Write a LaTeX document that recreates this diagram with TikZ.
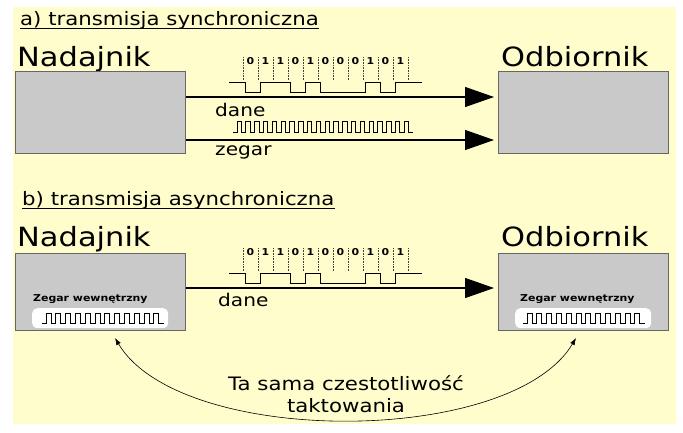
\documentclass[tikz,border=0pt]{standalone}
\usepackage{fontspec}
\setmainfont{DejaVu Sans}[FakeStretch=1.15]
\usepackage{tikz}
\usetikzlibrary{arrows.meta,positioning}
\definecolor{paper}{HTML}{FFFDCC}
\definecolor{unitf}{HTML}{C9C9C9}
\definecolor{unitl}{HTML}{666666}
\tikzset{
  unit/.style={draw=unitl,line width=0.9pt,fill=unitf,anchor=north west,minimum width=170pt,inner sep=0pt},
  osc/.style={fill=white,rounded corners=5pt,anchor=north west,minimum width=136pt,minimum height=20pt,inner sep=0pt},
  lbl/.style={anchor=base west,inner sep=0pt},
  head/.style={lbl,font=\fontsize{26.5}{30}\selectfont},
  ttl/.style={lbl,font=\fontsize{18.5}{20}\selectfont},
  sm/.style={lbl,font=\fontsize{17.5}{19}\selectfont},
  tiny/.style={lbl,font=\bfseries\fontsize{9.5}{10}\selectfont},
  bit/.style={anchor=base,inner sep=0pt,font=\bfseries\fontsize{9.5}{10}\selectfont},
  ar/.style={-{Triangle[length=29pt,width=20pt]},line width=1.2pt,shorten >=4pt},
  sig/.style={line width=0.7pt},
  tk/.style={densely dotted,line width=0.6pt,black!75}
}

\begin{document}
\begin{tikzpicture}[x=1pt,y=-1pt]
\useasboundingbox (0,0) rectangle (683,432);
\fill[white] (0,0) rectangle (683,432);
\fill[paper] (13,7) rectangle (676,424);

% a) synchroniczna
\node[ttl] (titA) at (20,25) {a) transmisja synchroniczna};
\draw[line width=0.8pt] ([yshift=-3pt]titA.base west) -- ([yshift=-3pt]titA.base east);
\node[head] (nadA) at (17,66) {Nadajnik};
\node[head] (odbA) at (501,66) {Odbiornik};
\node[unit,minimum height=82pt] (txA) at (15,71) {};
\node[unit,minimum height=82pt] (rxA) at (498,71) {};
\coordinate (daneA) at (0,97);
\coordinate (zegA) at (0,140);
\draw[ar] (txA.east |- daneA) -- (rxA.west |- daneA);
\draw[ar] (txA.east |- zegA) -- (rxA.west |- zegA);
\node[sm] (daneAl) at (215,116) {dane};
\node[sm] (zegAl) at (215,155) {zegar};
\draw[sig] (233,132) -- (237,132) \foreach \k in {1,...,20}{ -- ++(0,-11) -- ++(4.4,0) -- ++(0,11) -- ++(4.4,0)};

% b) asynchroniczna
\node[ttl] (titB) at (22,205) {b) transmisja asynchroniczna};
\draw[line width=0.8pt] ([yshift=-3pt]titB.base west) -- ([yshift=-3pt]titB.base east);
\node[head] (nadB) at (17,246) {Nadajnik};
\node[head] (odbB) at (501,246) {Odbiornik};
\node[unit,minimum height=77pt] (txB) at (15,253) {};
\node[unit,minimum height=77pt] (rxB) at (498,253) {};
\coordinate (daneB) at (0,288);
\draw[ar] (txB.east |- daneB) -- (rxB.west |- daneB);
\node[sm] (daneBl) at (218,306) {dane};
\node[tiny] (zwTx) at (33,301) {Zegar wewnętrzny};
\node[tiny] (zwRx) at (520,301) {Zegar wewnętrzny};
\node[osc] (clkTx) at (32,308) {};
\node[osc] (clkRx) at (515,308) {};
\draw[sig] (42,323) -- (46,323) \foreach \k in {1,...,12}{ -- ++(0,-10) -- ++(4.9,0) -- ++(0,10) -- ++(4.9,0)};
\draw[sig] (523,323) -- (527,323) \foreach \k in {1,...,12}{ -- ++(0,-10) -- ++(4.9,0) -- ++(0,10) -- ++(4.9,0)};

% bity danych
\foreach \ly in {97,288}{
  \foreach \b [count=\i from 0] in {0,1,1,0,1,0,0,0,1,0,1}
    \node[bit] (b\ly-\i) at (250.5+15*\i,\ly-33) {\b};
  \foreach \i in {0,...,11}
    \draw[tk] (243+15*\i,\ly-40) -- (243+15*\i,\ly-17);
  \draw[sig] (229,\ly-15) -| (245,\ly-5) -| (260,\ly-15) -| (290,\ly-5) -| (305,\ly-15)
    -| (320,\ly-5) -| (365,\ly-15) -| (380,\ly-5) -| (395,\ly-15) -- (422,\ly-15);
}

% ta sama czestotliwosc
\coordinate (tipL) at (115,338);
\coordinate (tipR) at (576,338);
\draw[{Latex[length=7pt,width=5pt]}-{Latex[length=7pt,width=5pt]},line width=0.6pt]
  (tipL) .. controls (180,447) and (511,447) .. (tipR);
\node[align=center,inner sep=0pt,font=\fontsize{18.5}{22}\selectfont] (freq) at (346,394) {Ta sama czestotliwość\\taktowania};
\end{tikzpicture}
\end{document}
